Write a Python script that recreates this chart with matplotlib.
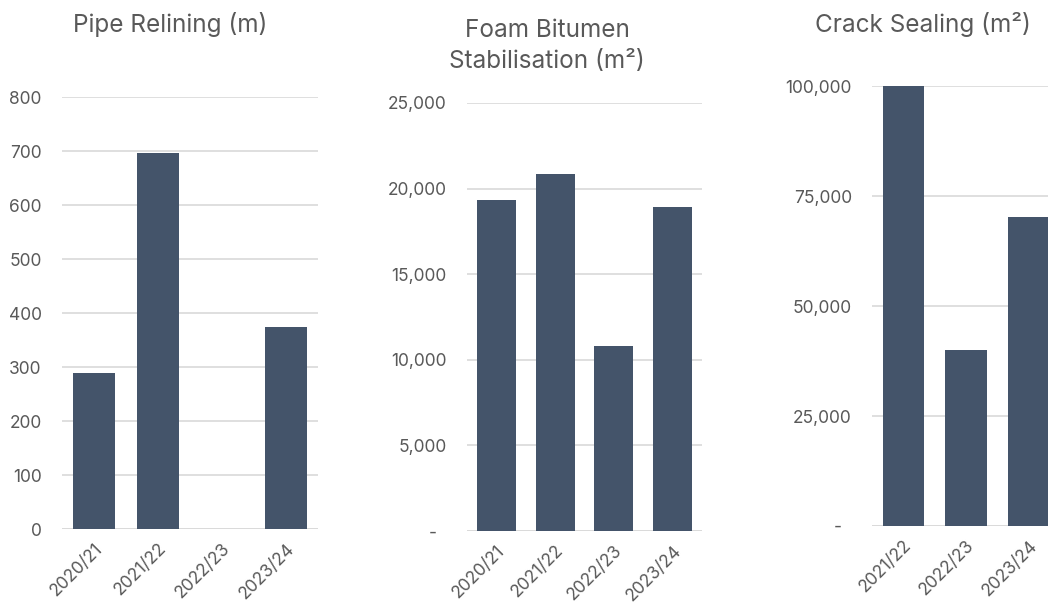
import matplotlib
matplotlib.use("Agg")
import matplotlib.pyplot as plt
from matplotlib.ticker import FuncFormatter

plt.rcParams['font.family'] = ['Inter', 'DejaVu Sans']

pipe_years = ["2020/21", "2021/22", "2022/23", "2023/24"]
pipe_values = [288, 697, 0, 374]

foam_years = ["2020/21", "2021/22", "2022/23", "2023/24"]
foam_values = [19350, 20850, 10800, 18950]

crack_years = ["2021/22", "2022/23", "2023/24"]
crack_values = [100000, 40000, 70200]

BAR = "#44546A"
GRID = "#D9D9D9"
TXT = "#595959"

W, H = 1048, 610
fig = plt.figure(figsize=(W / 100, H / 100), dpi=100)


def axes_px(x0, x1, ybot, ytop):
    return fig.add_axes([x0 / W, 1 - ybot / H, (x1 - x0) / W, (ybot - ytop) / H])


def title_px(x, y, s):
    fig.text(x / W, 1 - y / H, s, ha='center', va='baseline', fontsize=17.5, color=TXT)


def style(ax, cats, vals, ymax, step, fmt):
    x = range(len(cats))
    ax.bar(x, vals, width=0.66, color=BAR, zorder=3)
    ax.set_xlim(-0.5, len(cats) - 0.5)
    ax.set_ylim(0, ymax)
    ax.set_yticks(range(0, ymax + 1, step))
    ax.yaxis.set_major_formatter(FuncFormatter(fmt))
    ax.set_xticks(list(x))
    ax.set_xticklabels(cats, rotation=45, ha='right', va='top', rotation_mode='anchor')
    for s in ax.spines.values():
        s.set_visible(False)
    ax.grid(axis='y', color=GRID, linewidth=1.2, zorder=0)
    ax.tick_params(axis='both', length=0, labelsize=12.5, colors=TXT)
    ax.tick_params(axis='y', pad=14.5)
    ax.tick_params(axis='x', pad=8)
    ax.axhline(0, color=GRID, linewidth=1.2, zorder=2)


def plain(v, p):
    return f"{int(v)}"


def acct(v, p):
    return "-  " if v == 0 else f"{int(v):,}"


ax1 = axes_px(62, 318, 529, 97)
style(ax1, pipe_years, pipe_values, 800, 100, plain)
title_px(170, 32, "Pipe Relining (m)")

ax2 = axes_px(467, 702, 531, 103)
style(ax2, foam_years, foam_values, 25000, 5000, acct)
title_px(547, 37, "Foam Bitumen")
title_px(547, 68, "Stabilisation (m²)")

ax3 = axes_px(872, 1060, 526, 86)
style(ax3, crack_years, crack_values, 100000, 25000, acct)
title_px(923, 32, "Crack Sealing (m²)")

fig.savefig("out.png", dpi=100)
